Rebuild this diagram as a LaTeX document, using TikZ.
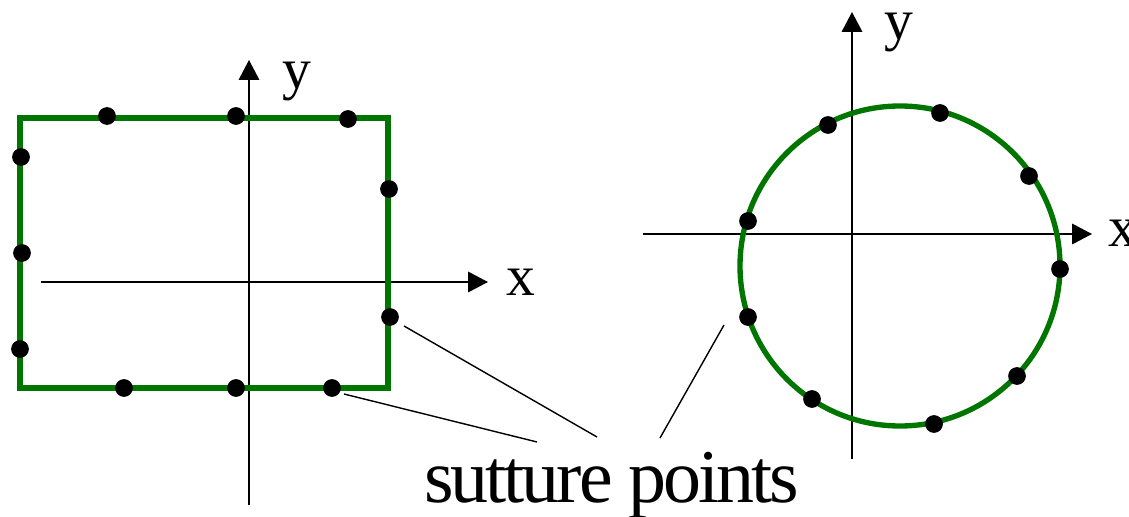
\documentclass[tikz,border=0pt]{standalone}
\usepackage{fontspec}
\setmainfont{Liberation Serif}
\usetikzlibrary{arrows.meta,positioning}
\definecolor{Leaf}{RGB}{0,118,0}

\begin{document}
\begin{tikzpicture}[x=0.025cm,y=-0.025cm,
    axis/.style={-{Triangle[length=14.2pt,width=14.6pt]},line width=1.2pt},
    outline/.style={draw=Leaf,line width=3.8pt},
    dot/.style={circle,fill=black,inner sep=0pt,minimum size=12.6pt},
    lead/.style={line width=1pt},
    axlbl/.style={font=\fontsize{41}{45}\selectfont,inner sep=0pt,anchor=base},
    lbl/.style={font=\fontsize{54}{60}\selectfont\addfontfeatures{LetterSpace=-4},
                inner sep=0pt,anchor=base west}]
  \useasboundingbox (0,0) rectangle (1129,517);

  % left: square outline
  \draw[axis] (41,282) -- (488,282);
  \draw[axis] (249,505) -- (249,60);
  \draw[outline] (20,118) rectangle (388,388);
  \node[axlbl] (lx) at (521,296) {x};
  \node[axlbl] (ly) at (297,89) {y};
  \foreach \p [count=\i] in {(107,116),(236,116),(348,119),(21,157),(22,253),
      (20,349),(389,189),(390,317),(124,388),(236,388),(332,388)}
    \node[dot] (s\i) at \p {};

  % right: circle outline
  \draw[axis] (643,234) -- (1092,234);
  \draw[axis] (852,459) -- (852,12);
  \draw[outline] (900,266) circle[radius=160];
  \node[axlbl] (rx) at (1123,247) {x};
  \node[axlbl] (ry) at (899,40) {y};
  \foreach \p [count=\i] in {(828,125),(940,113),(1029,176),(1060,269),(1017,376),
      (934,424),(812,399),(748,317),(748,221)}
    \node[dot] (c\i) at \p {};

  % label and leaders
  \node[lbl] (sp) at (424,502) {sutture points};
  \coordinate (a1) at (344,394);
  \coordinate (a2) at (404,326);
  \coordinate (a3) at (724,325);
  \coordinate (b1) at (537,442);
  \coordinate (b2) at (597,437);
  \coordinate (b3) at (660,438);
  \draw[lead] (a1) -- (b1);
  \draw[lead] (a2) -- (b2);
  \draw[lead] (a3) -- (b3);
\end{tikzpicture}
\end{document}
